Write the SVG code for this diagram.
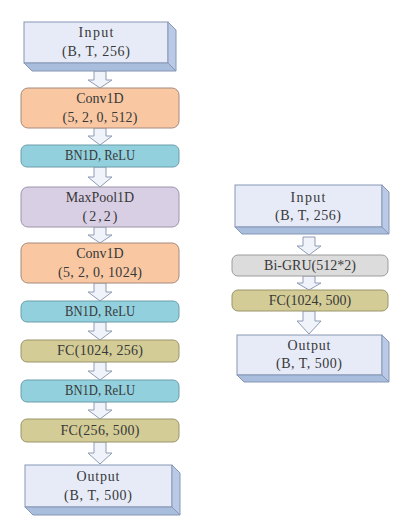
<svg xmlns="http://www.w3.org/2000/svg" width="400" height="524" viewBox="0 0 400 524">
<style>
text{font-family:'Liberation Serif','Times New Roman',serif;font-size:14px;fill:#383838;text-anchor:middle}
.front{fill:#E6EBF7;stroke:#8797B5;stroke-width:1}
.side{fill:#BACAE6;stroke:#8797B5;stroke-width:1}
.bottom{fill:#A9BDDD;stroke:#8797B5;stroke-width:1}
.conv{fill:#F9C8A3;stroke:#A68A7C;stroke-width:1}
.bn{fill:#92D0DE;stroke:#6A9EAA;stroke-width:1}
.pool{fill:#D9CFE4;stroke:#9C94A8;stroke-width:1}
.fc{fill:#D3CC96;stroke:#9A946A;stroke-width:1}
.gru{fill:#DCDCDC;stroke:#9C9C9C;stroke-width:1}
.arr{fill:#F0F3FA;stroke:#8E9BB5;stroke-width:1}
</style>
<rect width="400" height="524" fill="#FFFFFF"/>
<g id="connectors">
<path class="arr" d="M94,71 H106 V80 H112 L100,88 L88,80 H94 Z"/>
<path class="arr" d="M94,128 H106 V136 H112 L100,145 L88,136 H94 Z"/>
<path class="arr" d="M94,167 H106 V177 H112 L100,187 L88,177 H94 Z"/>
<path class="arr" d="M94,227 H106 V235 H112 L100,243 L88,235 H94 Z"/>
<path class="arr" d="M94,283 H106 V292 H112 L100,301 L88,292 H94 Z"/>
<path class="arr" d="M94,322 H106 V331 H112 L100,340 L88,331 H94 Z"/>
<path class="arr" d="M94,362 H106 V371 H112 L100,380 L88,371 H94 Z"/>
<path class="arr" d="M94,402 H106 V410 H112 L100,419 L88,410 H94 Z"/>
<path class="arr" d="M94,442 H106 V453 H112 L100,464 L88,453 H94 Z"/>
<path class="arr" d="M303,237 H315 V246 H321 L309,255 L297,246 H303 Z"/>
<path class="arr" d="M303,276 H315 V283 H321 L309,290 L297,283 H303 Z"/>
<path class="arr" d="M303,311 H315 V321 H321 L309,334 L297,321 H303 Z"/>
</g>
<g id="input-left">
<rect class="front" x="24" y="22" width="144" height="41"/>
<polygon class="side" points="168,22 176,30 176,71 168,63"/>
<polygon class="bottom" points="24,63 168,63 176,71 32,71"/>
<text x="96" y="37" textLength="35">Input</text>
<text x="96" y="56" textLength="68">(B, T, 256)</text>
</g>
<g id="conv1">
<rect class="conv" x="21" y="88" width="158" height="40" rx="7"/>
<text x="100" y="103">Conv1D</text>
<text x="100" y="122" textLength="75">(5, 2, 0, 512)</text>
</g>
<g id="bn1">
<rect class="bn" x="21" y="145" width="158" height="22" rx="6"/>
<text x="100" y="160" textLength="70" lengthAdjust="spacingAndGlyphs">BN1D, ReLU</text>
</g>
<g id="pool">
<rect class="pool" x="21" y="187" width="158" height="40" rx="7"/>
<text x="100" y="202">MaxPool1D</text>
<text x="100" y="221" textLength="35">(2,2)</text>
</g>
<g id="conv2">
<rect class="conv" x="21" y="243" width="158" height="40" rx="7"/>
<text x="100" y="258">Conv1D</text>
<text x="100" y="277" textLength="84">(5, 2, 0, 1024)</text>
</g>
<g id="bn2">
<rect class="bn" x="21" y="301" width="158" height="21" rx="6"/>
<text x="100" y="316" textLength="70" lengthAdjust="spacingAndGlyphs">BN1D, ReLU</text>
</g>
<g id="fc1">
<rect class="fc" x="21" y="340" width="158" height="22" rx="6"/>
<text x="100" y="355" textLength="86">FC(1024, 256)</text>
</g>
<g id="bn3">
<rect class="bn" x="21" y="380" width="158" height="22" rx="6"/>
<text x="100" y="395" textLength="70" lengthAdjust="spacingAndGlyphs">BN1D, ReLU</text>
</g>
<g id="fc2">
<rect class="fc" x="21" y="419" width="158" height="23" rx="6"/>
<text x="100" y="435" textLength="79">FC(256, 500)</text>
</g>
<g id="output-left">
<rect class="front" x="25" y="465" width="147" height="42"/>
<polygon class="side" points="172,465 180,473 180,515 172,507"/>
<polygon class="bottom" points="25,507 172,507 180,515 33,515"/>
<text x="98" y="481" textLength="43">Output</text>
<text x="98" y="500" textLength="68">(B, T, 500)</text>
</g>
<g id="input-right">
<rect class="front" x="235" y="185" width="147" height="42"/>
<polygon class="side" points="382,185 389,192 389,234 382,227"/>
<polygon class="bottom" points="235,227 382,227 389,234 242,234"/>
<text x="308" y="202" textLength="35">Input</text>
<text x="308" y="220" textLength="66">(B, T, 256)</text>
</g>
<g id="bigru">
<rect class="gru" x="232" y="255" width="156" height="21" rx="6"/>
<text x="310" y="270">Bi-GRU(512*2)</text>
</g>
<g id="fc-right">
<rect class="fc" x="232" y="290" width="156" height="21" rx="6"/>
<text x="310" y="305">FC(1024, 500)</text>
</g>
<g id="output-right">
<rect class="front" x="237" y="335" width="145" height="40"/>
<polygon class="side" points="382,335 389,342 389,382 382,375"/>
<polygon class="bottom" points="237,375 382,375 389,382 244,382"/>
<text x="309" y="350" textLength="43">Output</text>
<text x="309" y="368" textLength="66">(B, T, 500)</text>
</g>
</svg>
